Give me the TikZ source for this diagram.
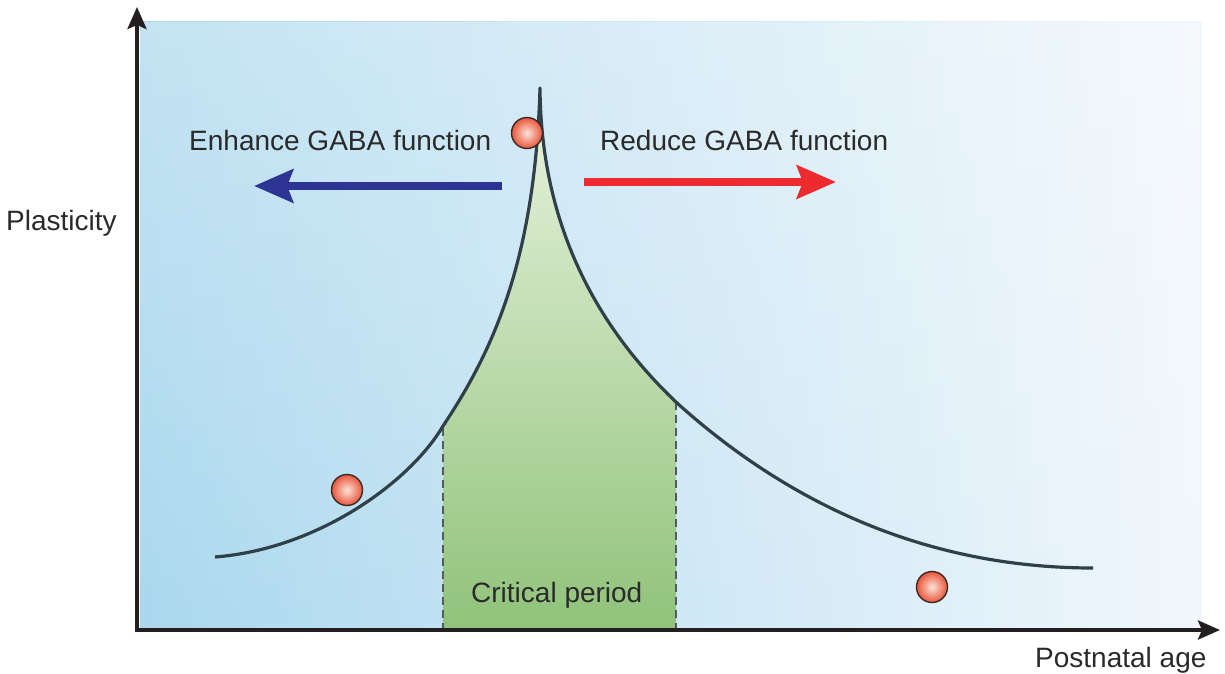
\documentclass[tikz,border=0pt]{standalone}
\usepackage{fontspec}
\setmainfont{Liberation Sans}
\usetikzlibrary{arrows.meta, fadings}

\definecolor{axisink}{HTML}{231F20}
\definecolor{textink}{HTML}{2A2A2A}
\definecolor{bgleft}{HTML}{AAD8EE}
\definecolor{bgmid}{HTML}{D3EAF5}
\definecolor{bgright}{HTML}{F1F7FC}
\definecolor{greentop}{HTML}{EAF3E0}
\definecolor{greenbot}{HTML}{90C37A}
\definecolor{curveink}{HTML}{2F4049}
\definecolor{dashink}{HTML}{555A5C}
\definecolor{enhblue}{HTML}{2E3494}
\definecolor{redred}{HTML}{EC2A2F}
\definecolor{ballhi}{HTML}{FDE3D8}
\definecolor{ballred}{HTML}{E8553A}
\definecolor{ballrim}{HTML}{3A2A26}

% plasticity curve: slow rise, sharp peak, long decay
\def\plasticitycurve{%
  (215,557) .. controls (318,549) and (410,482) .. (443,426)
  .. controls (493,351) and (535,260) .. (540,88)
  .. controls (541,248) and (617,346) .. (677,403)
  .. controls (777,493) and (913,568) .. (1093,568)}

\begin{document}
\begin{tikzpicture}[x=1pt, y=-1pt,
  txt/.style={inner sep=0pt, anchor=base west, text=textink,
    font=\fontsize{28}{32}\selectfont},
  ball/.style={circle, draw=ballrim, line width=1.4pt, minimum size=31pt,
    inner sep=0pt, inner color=ballhi, outer color=ballred},
  axisline/.style={draw=axisink, line width=4pt,
    -{Stealth[length=22pt, width=19pt, inset=4pt]}},
  gabaarrow/.style={line width=8.5pt,
    -{Stealth[length=39pt, width=33pt, inset=6pt]}},
  dashline/.style={draw=dashink, line width=2pt, dash pattern=on 8pt off 5pt},
  curveline/.style={draw=curveink, line width=3.2pt, line join=round}]

\useasboundingbox (0,0) rectangle (1225,674);

% background panel
\shade[left color=bgleft, middle color=bgmid, right color=bgright]
  (140,22) rectangle (1202,630);
\fill[white, opacity=0.3, path fading=south] (140,22) rectangle (1202,630);

% critical period band
\begin{scope}
  \clip (443,60) rectangle (676,630);
  \shade[top color=greentop, bottom color=greenbot]
    \plasticitycurve -- (1093,630) -- (215,630) -- cycle;
\end{scope}

\coordinate (cpLtop) at (443,428);
\coordinate (cpLbot) at (443,630);
\coordinate (cpRtop) at (676,402);
\coordinate (cpRbot) at (676,630);
\draw[dashline] (cpLtop) -- (cpLbot);
\draw[dashline] (cpRtop) -- (cpRbot);

% curve
\draw[curveline] \plasticitycurve;

% GABA arrows
\coordinate (enhStart) at (502,186);
\coordinate (enhTip) at (254,186);
\coordinate (redStart) at (584,182);
\coordinate (redTip) at (836,182);
\draw[gabaarrow, enhblue] (enhStart) -- (enhTip);
\draw[gabaarrow, redred] (redStart) -- (redTip);

% balls
\node[ball] (ballLow) at (347,490) {};
\node[ball] (ballPeak) at (527,133) {};
\node[ball] (ballLate) at (932,587) {};

% labels
\node[txt] (enhLabel) at (189,150) {Enhance GABA function};
\node[txt] (redLabel) at (600,150) {Reduce GABA function};
\node[txt] (plasLabel) at (6,230) {Plasticity};
\node[txt] (critLabel) at (471,602) {Critical period};
\node[txt] (ageLabel) at (1035,667) {Postnatal age};

% axes
\coordinate (yEnd) at (137,7);
\coordinate (xEnd) at (1220,630);
\coordinate (yStart) at (137,632);
\coordinate (xStart) at (135,630);
\draw[axisline] (yStart) -- (yEnd);
\draw[axisline] (xStart) -- (xEnd);
\end{tikzpicture}
\end{document}
